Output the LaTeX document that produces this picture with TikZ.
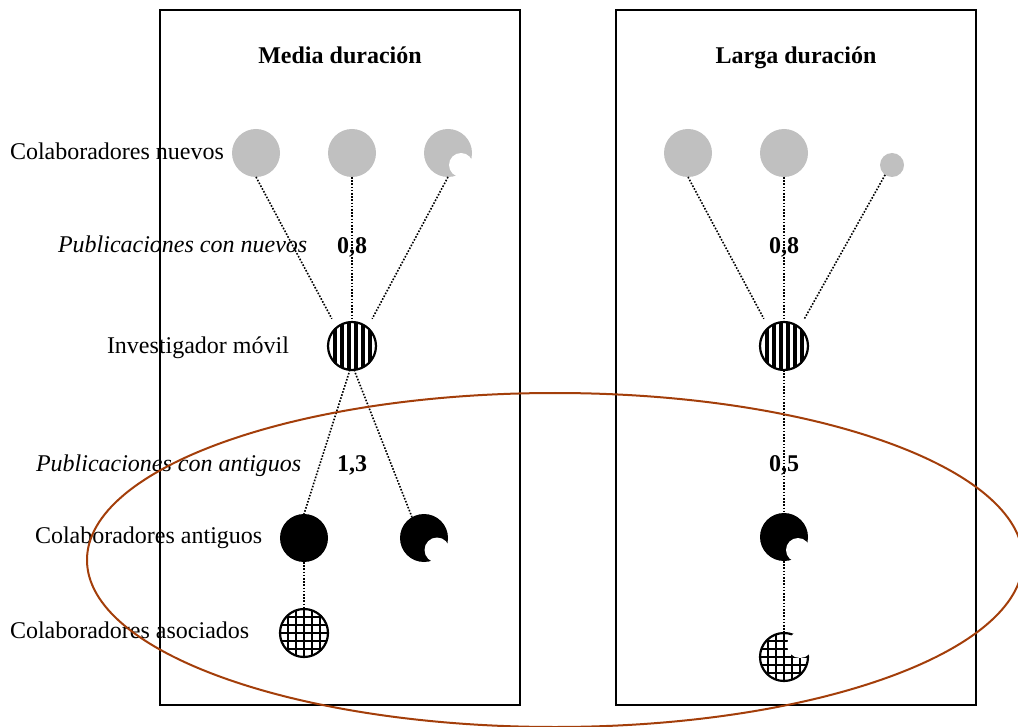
\documentclass[tikz,border=0pt]{standalone}
\usepackage{fontspec}
\setmainfont{Liberation Serif}
\definecolor{ellbrown}{RGB}{163,62,10}
\definecolor{lightgr}{RGB}{192,192,192}
\begin{document}
\begin{tikzpicture}[x=1pt,y=-1pt,
  every node/.style={inner sep=0pt, outer sep=0pt},
  lab/.style={anchor=base west, font=\fontsize{24}{28}\selectfont},
  num/.style={anchor=base, font=\fontsize{24}{28}\selectfont\bfseries},
  ttl/.style={anchor=base, font=\fontsize{24}{28}\selectfont\bfseries},
  panel/.style={draw=black, line width=2pt, minimum width=360pt, minimum height=695pt},
  grayc/.style={circle, fill=lightgr, minimum size=48pt},
  blackc/.style={circle, fill=black, minimum size=48pt},
  bite/.style={circle, fill=white},
  stripec/.style={circle, draw=black, line width=2.2pt, fill=white, minimum size=48pt,
    path picture={
      \foreach \o in {-17.5,-10.5,-3.5,3.5,10.5,17.5}{
        \fill[black] ([xshift={(\o-2)*1pt}, yshift=-30pt]path picture bounding box.center)
          rectangle ([xshift={(\o+2)*1pt}, yshift=30pt]path picture bounding box.center);
      }}},
  hatchc/.style={circle, draw=black, line width=2.2pt, fill=white, minimum size=48pt,
    path picture={
      \foreach \o in {-16,-8,0,8,16}{
        \draw[line width=1.8pt] ([xshift=\o pt, yshift=-30pt]path picture bounding box.center)
          -- ([xshift=\o pt, yshift=30pt]path picture bounding box.center);
        \draw[line width=1.8pt] ([yshift=\o pt, xshift=-30pt]path picture bounding box.center)
          -- ([yshift=\o pt, xshift=30pt]path picture bounding box.center);
      }}},
  dotline/.style={line width=1.6pt, dash pattern=on 1.6pt off 1.6pt}
]
\useasboundingbox (0,0) rectangle (1018,727);

% panels
\node[panel] (pm) at (340,357.5) {};
\node[panel] (pl) at (796,357.5) {};
\node[ttl] (tm) at (340,64) {Media duración};
\node[ttl] (tl) at (796,64) {Larga duración};

% labels
\node[lab] (l1) at (10,160) {Colaboradores nuevos};
\node[lab, font=\fontsize{24}{28}\selectfont\itshape] (l2) at (58,253) {Publicaciones con nuevos};
\node[lab] (l3) at (107,354) {Investigador móvil};
\node[lab, font=\fontsize{24}{28}\selectfont\itshape] (l4) at (36,471) {Publicaciones con antiguos};
\node[lab] (l5) at (35,543) {Colaboradores antiguos};
\node[lab] (l6) at (10,638) {Colaboradores asociados};
\node[num] (n1) at (352,254) {0,8};
\node[num] (n2) at (352,471) {1,3};
\node[num] (n3) at (784,254) {0,8};
\node[num] (n4) at (784,471) {0,5};

% left panel circles
\node[grayc] (g1) at (256,153) {};
\node[grayc] (g2) at (352,153) {};
\node[grayc] (g3) at (448,153) {};
\node[stripec] (inv1) at (352,346) {};
\node[blackc] (b1) at (304,538) {};
\node[blackc] (b2) at (424,538) {};
\node[hatchc] (h1) at (304,633) {};

% right panel circles
\node[grayc] (g4) at (688,153) {};
\node[grayc] (g5) at (784,153) {};
\node[grayc, minimum size=24pt] (g6) at (892,165) {};
\node[stripec] (inv2) at (784,346) {};
\node[blackc] (b3) at (784,537) {};
\node[hatchc] (h2) at (784,657) {};

% bites
\node[bite, minimum size=24pt] (k1) at (461,165) {};
\node[bite, minimum size=25pt] (k2) at (437,550) {};
\node[bite, minimum size=24pt] (k3) at (798,550) {};
\node[bite, minimum size=26pt] (k4) at (800,645) {};

% connectors left
\draw[dotline, shorten >=10pt] (g1.south) -- (inv1.130);
\draw[dotline] (g2.south) -- (inv1.north);
\draw[dotline, shorten >=10pt] (g3.south) -- (inv1.50);
\draw[dotline] (inv1.265) -- (b1.north);
\draw[dotline] (inv1.275) -- (b2.120);
\draw[dotline] (b1.south) -- (h1.north);

% connectors right
\draw[dotline, shorten >=10pt] (g4.south) -- (inv2.130);
\draw[dotline] (g5.south) -- (inv2.north);
\draw[dotline, shorten >=10pt] (g6.235) -- (inv2.50);
\draw[dotline] (inv2.south) -- (b3.north);
\draw[dotline] (b3.south) -- (h2.north);

% ellipse
\draw[ellbrown, line width=2pt] (555,560) ellipse [x radius=468pt, y radius=167pt];
\end{tikzpicture}
\end{document}
